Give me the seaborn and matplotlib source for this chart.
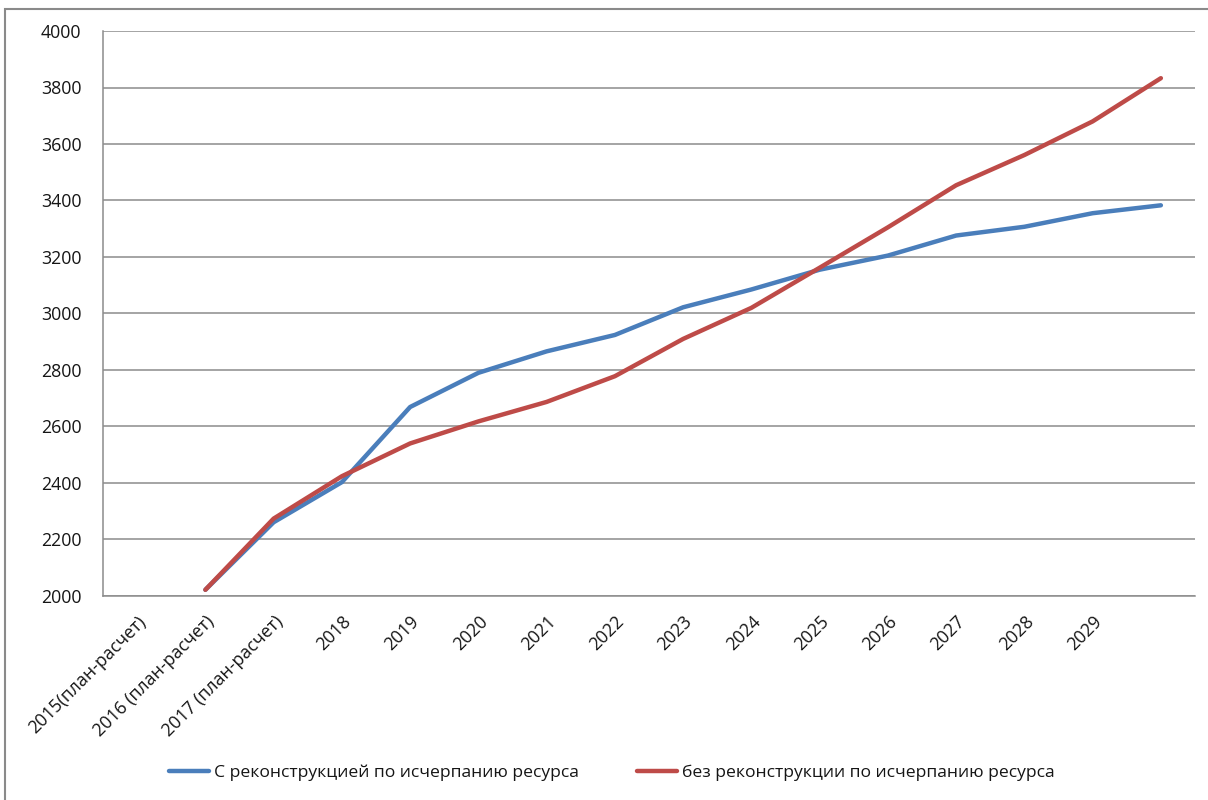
import numpy as np
import pandas as pd
import seaborn as sns
import matplotlib
matplotlib.use("Agg")
import matplotlib.pyplot as plt
from matplotlib.patches import Rectangle
from matplotlib.ticker import FixedLocator
from matplotlib.transforms import ScaledTranslation

# Category labels (the final year has no caption on the axis)
categories = [
    "2015(план-расчет)", "2016 (план-расчет)", "2017 (план-расчет)",
    "2018", "2019", "2020", "2021", "2022", "2023", "2024",
    "2025", "2026", "2027", "2028", "2029", "",
]

series_names = [
    "С реконструкцией по исчерпанию ресурса",
    "без реконструкции по исчерпанию ресурса",
]

with_reconstruction = [np.nan, 2022, 2261, 2403, 2669, 2790, 2866, 2924,
                       3022, 3085, 3155, 3205, 3276, 3307, 3355, 3383]
without_reconstruction = [np.nan, 2022, 2274, 2424, 2540, 2618, 2687, 2778,
                          2910, 3020, 3162, 3305, 3454, 3561, 3680, 3833]

colors = ["#4A7EBB", "#BE4B48"]

rows = []
for name, vals in zip(series_names, [with_reconstruction, without_reconstruction]):
    for i, v in enumerate(vals):
        rows.append({"pos": i, "value": v, "series": name})
df = pd.DataFrame(rows).dropna()

sns.set_theme(style="white")
plt.rcParams["font.family"] = ["Open Sans", "DejaVu Sans"]

fig = plt.figure(figsize=(12.08, 8.0), dpi=100)
ax = fig.add_axes([103 / 1208, 1 - 596 / 800, (1195 - 103) / 1208, (596 - 31) / 800])

sns.lineplot(data=df, x="pos", y="value", hue="series", hue_order=series_names,
             palette=colors, linewidth=3.2, ax=ax, legend=True)

grid_c = "#8c8c8c"
text_c = "#151515"
ax.set_xlim(-0.5, len(categories) - 0.5)
ax.set_ylim(2000, 4000)
ax.set_yticks(np.arange(2000, 4001, 200))
ax.yaxis.grid(True, color=grid_c, linewidth=1.1)
ax.xaxis.grid(False)
ax.set_xlabel("")
ax.set_ylabel("")

for side in ["top", "right"]:
    ax.spines[side].set_visible(False)
for side in ["left", "bottom"]:
    ax.spines[side].set_color(grid_c)
    ax.spines[side].set_linewidth(1.1)

# Labels at category centres, tick marks at category boundaries
ax.set_xticks(np.arange(len(categories)))
ax.set_xticklabels(categories, rotation=45, ha="right", rotation_mode="anchor",
                   fontsize=12.8, color=text_c)
shift = ScaledTranslation(-5 / 100, 0, fig.dpi_scale_trans)
for lbl in ax.get_xticklabels():
    lbl.set_transform(lbl.get_transform() + shift)
ax.xaxis.set_minor_locator(FixedLocator(np.arange(-0.5, len(categories), 1.0)))
ax.tick_params(axis="x", which="major", length=0, pad=12)
ax.tick_params(axis="x", which="minor", length=5, width=1.1, color=grid_c, direction="out")
ax.tick_params(axis="y", which="major", length=7, width=1.1, color=grid_c,
               direction="out", labelsize=12.8, labelcolor=text_c, pad=8.5)

leg = ax.legend(loc="center", bbox_to_anchor=(0.5 + (612 - 649) / 1092, (596 - 773) / 565),
                ncol=2, frameon=False, fontsize=12.6, handlelength=2.3,
                handletextpad=0.3, columnspacing=3.3)
for t in leg.get_texts():
    t.set_color(text_c)

# Chart-area border
fig.patches.append(Rectangle((5 / 1208, -0.05), 1.1, 1 - 9 / 800 + 0.05,
                             transform=fig.transFigure, fill=False,
                             edgecolor="#8a8a8a", linewidth=1.5))

fig.savefig("out.png", dpi=100, facecolor="white")
